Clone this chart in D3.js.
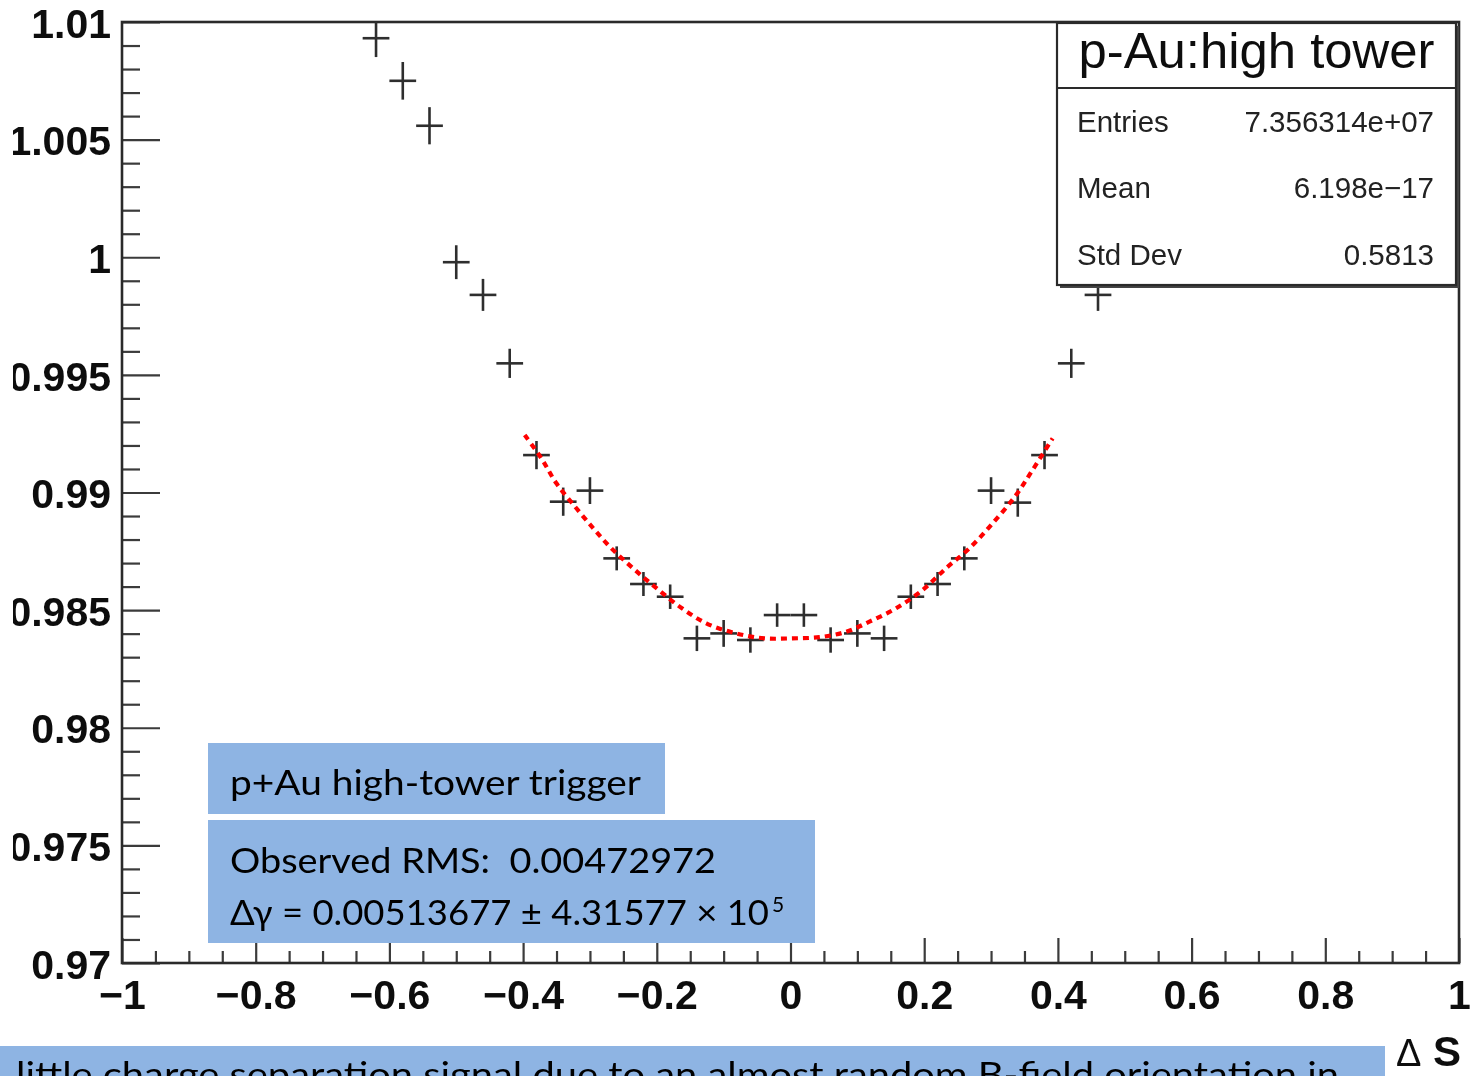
<!DOCTYPE html>
<html>
<head>
<meta charset="utf-8">
<script src="https://cdn.jsdelivr.net/npm/d3@7"></script>
<style>
  html, body { margin: 0; padding: 0; background: #fff; }
  svg { display: block; }
</style>
</head>
<body>
<svg id="chart" width="1471" height="1076"></svg>
<script>
// ΔS bin centres (bin width 0.04) with the ratio in each bin and its uncertainty
const binCenters = [-0.62, -0.58, -0.54, -0.50, -0.46, -0.42, -0.38, -0.34, -0.30, -0.26,
                    -0.22, -0.18, -0.14, -0.10, -0.06, -0.02, 0.02, 0.06, 0.10, 0.14,
                    0.18, 0.22, 0.26, 0.30, 0.34, 0.38, 0.42, 0.46];
const ratioValues = [1.00931, 1.00750, 1.00559, 0.99979, 0.99840, 0.99549, 0.99159, 0.98961, 0.99008, 0.98720,
                     0.98611, 0.98557, 0.98380, 0.98401, 0.98373, 0.98479, 0.98479, 0.98373, 0.98401, 0.98380,
                     0.98557, 0.98611, 0.98720, 0.99008, 0.98957, 0.99159, 0.99549, 0.99840];
const ratioErrors = [0.00080, 0.00080, 0.00079, 0.00072, 0.00068, 0.00062, 0.00060, 0.00060, 0.00057, 0.00051,
                     0.00051, 0.00052, 0.00054, 0.00057, 0.00054, 0.00050, 0.00050, 0.00054, 0.00057, 0.00054,
                     0.00052, 0.00051, 0.00051, 0.00057, 0.00060, 0.00060, 0.00062, 0.00068];
const binHalfWidth = 0.02;

// fitted curve sampled along ΔS
const fitX = [-0.3976, -0.3726, -0.3502, -0.3203, -0.2930, -0.2680, -0.2357, -0.2033, -0.1659, -0.1260,
              -0.0812, -0.0389, 0.0030, 0.0433, 0.0833, 0.1181, 0.1580, 0.1978, 0.2327, 0.2676,
              0.3024, 0.3374, 0.3622, 0.3921];
const fitY = [0.99244, 0.99145, 0.99039, 0.98933, 0.98841, 0.98763, 0.98678, 0.98600, 0.98515, 0.98444,
              0.98401, 0.98380, 0.98380, 0.98385, 0.98408, 0.98451, 0.98508, 0.98586, 0.98678, 0.98763,
              0.98869, 0.98989, 0.99096, 0.99230];

// axis ticks
const xTickValues = [-1, -0.8, -0.6, -0.4, -0.2, 0, 0.2, 0.4, 0.6, 0.8, 1];
const xTickLabels = ["\u22121", "\u22120.8", "\u22120.6", "\u22120.4", "\u22120.2", "0", "0.2", "0.4", "0.6", "0.8", "1"];
const yTickValues = [0.97, 0.975, 0.98, 0.985, 0.99, 0.995, 1, 1.005, 1.01];
const yTickLabels = ["0.97", "0.975", "0.98", "0.985", "0.99", "0.995", "1", "1.005", "1.01"];
const xMinorStep = 0.05;
const yMinorStep = 0.001;
const xTitle = ["\u0394", " S"];

// statistics box
const statsTitle = "p-Au:high tower";
const statsNames = ["Entries", "Mean", "Std Dev"];
const statsValues = ["7.356314e+07", "6.198e\u221217", "0.5813"];

// annotation boxes
const triggerLabel = "p+Au high-tower trigger";
const rmsLine = "Observed RMS:  0.00472972";
const deltaGammaLine = "\u0394\u03b3 = 0.00513677 \u00b1 4.31577 \u00d7 10";
const deltaGammaExp = "5";
const captionLine = "little charge separation signal due to an almost random B-field orientation in";

// ---- layout ----
const L = 122, R = 1459, T = 22, B = 963;
const axisFont = "'Liberation Sans', Arial, Helvetica, sans-serif";
const noteFont = "Lato, 'Open Sans', sans-serif";
const noteFill = "#8eb4e3";

const svg = d3.select("#chart");
const defs = svg.append("defs");
defs.append("clipPath").attr("id", "page-clip")
  .append("rect").attr("x", 13).attr("y", 0).attr("width", 1458).attr("height", 1076);
defs.append("clipPath").attr("id", "plot-clip")
  .append("rect").attr("x", L).attr("y", T).attr("width", R - L).attr("height", B - T);
defs.append("filter").attr("id", "soft").attr("x", "-2%").attr("y", "-2%").attr("width", "104%").attr("height", "104%")
  .append("feGaussianBlur").attr("stdDeviation", 0.7);

const x = d3.scaleLinear().domain([-1, 1]).range([L, R]);
const y = d3.scaleLinear().domain([0.97, 1.01]).range([B, T]);

const chart = svg.append("g").attr("clip-path", "url(#page-clip)")
  .append("g").attr("filter", "url(#soft)");

const near = (v, arr) => arr.some(a => Math.abs(a - v) < 1e-9);
const xMinor = d3.range(-1, 1 + 1e-9, xMinorStep).map(v => +v.toFixed(4)).filter(v => !near(v, xTickValues));
const yMinor = d3.range(0.97, 1.01 + 1e-9, yMinorStep).map(v => +v.toFixed(4)).filter(v => !near(v, yTickValues));

function styleTicks(g, width) {
  g.select(".domain").remove();
  g.attr("color", "#3a3a3a");
  g.selectAll(".tick line").attr("stroke-width", width);
}

// y axis: minor then major ticks (drawn inward)
chart.append("g").attr("transform", `translate(${L},0)`)
  .call(d3.axisLeft(y).tickValues(yMinor).tickSize(-18).tickSizeOuter(0).tickFormat(""))
  .call(g => styleTicks(g, 2.2));
chart.append("g").attr("transform", `translate(${L},0)`)
  .call(d3.axisLeft(y).tickValues(yTickValues).tickSize(-38).tickSizeOuter(0).tickPadding(11)
    .tickFormat((d, i) => yTickLabels[i]))
  .call(g => styleTicks(g, 2.2))
  .call(g => g.selectAll(".tick text")
    .attr("fill", "#111").attr("dy", "0.37em")
    .attr("font-family", axisFont).attr("font-size", 41).attr("font-weight", "bold"));

// x axis: minor then major ticks (drawn inward)
chart.append("g").attr("transform", `translate(0,${B})`)
  .call(d3.axisBottom(x).tickValues(xMinor).tickSize(-12).tickSizeOuter(0).tickFormat(""))
  .call(g => styleTicks(g, 2.2));
chart.append("g").attr("transform", `translate(0,${B})`)
  .call(d3.axisBottom(x).tickValues(xTickValues).tickSize(-25).tickSizeOuter(0).tickPadding(17)
    .tickFormat((d, i) => xTickLabels[i]))
  .call(g => styleTicks(g, 2.2))
  .call(g => g.selectAll(".tick text")
    .attr("fill", "#111")
    .attr("font-family", axisFont).attr("font-size", 41).attr("font-weight", "bold"));

// frame
chart.append("rect")
  .attr("x", L).attr("y", T).attr("width", R - L).attr("height", B - T)
  .attr("fill", "none").attr("stroke", "#2a2a2a").attr("stroke-width", 2.6);

// data points: bin-width horizontal bars and vertical error bars
const points = binCenters.map((c, i) => ({ c, v: ratioValues[i], e: ratioErrors[i] }));
const marks = chart.append("g").attr("clip-path", "url(#plot-clip)")
  .attr("stroke", "#2e2e2e").attr("stroke-width", 2.6);
marks.selectAll("line.hbar").data(points).join("line").attr("class", "hbar")
  .attr("x1", d => x(d.c - binHalfWidth)).attr("x2", d => x(d.c + binHalfWidth))
  .attr("y1", d => y(d.v)).attr("y2", d => y(d.v));
marks.selectAll("line.vbar").data(points).join("line").attr("class", "vbar")
  .attr("x1", d => x(d.c)).attr("x2", d => x(d.c))
  .attr("y1", d => y(d.v - d.e)).attr("y2", d => y(d.v + d.e));

// fit curve
const fitPts = fitX.map((v, i) => [v, fitY[i]]);
chart.append("path")
  .attr("d", d3.line().x(d => x(d[0])).y(d => y(d[1])).curve(d3.curveCatmullRom)(fitPts))
  .attr("fill", "none").attr("stroke", "#ff0000").attr("stroke-width", 4.2)
  .attr("stroke-dasharray", "6 5");

// statistics box
const sb = { x: 1057, y: 23, w: 399, h: 262, sep: 88 };
const stats = chart.append("g");
stats.append("rect").attr("x", sb.x + 3).attr("y", sb.y + 3).attr("width", sb.w).attr("height", sb.h)
  .attr("fill", "#444");
stats.append("rect").attr("x", sb.x).attr("y", sb.y).attr("width", sb.w).attr("height", sb.h)
  .attr("fill", "#fff").attr("stroke", "#2a2a2a").attr("stroke-width", 2.2);
stats.append("line").attr("x1", sb.x).attr("x2", sb.x + sb.w).attr("y1", sb.sep).attr("y2", sb.sep)
  .attr("stroke", "#2a2a2a").attr("stroke-width", 2.2);
stats.append("text").attr("x", sb.x + sb.w / 2).attr("y", 68).attr("text-anchor", "middle")
  .attr("font-family", axisFont).attr("font-size", 50).attr("fill", "#111")
  .attr("textLength", 356).attr("lengthAdjust", "spacingAndGlyphs")
  .text(statsTitle);
const rowBase = [132, 198, 265];
stats.selectAll("text.sname").data(statsNames).join("text").attr("class", "sname")
  .attr("x", 1077).attr("y", (d, i) => rowBase[i])
  .attr("font-family", axisFont).attr("font-size", 29.5).attr("fill", "#222").text(d => d);
stats.selectAll("text.sval").data(statsValues).join("text").attr("class", "sval")
  .attr("x", 1434).attr("y", (d, i) => rowBase[i]).attr("text-anchor", "end")
  .attr("font-family", axisFont).attr("font-size", 29.5).attr("fill", "#222").text(d => d);

// axis title
const xt = chart.append("text").attr("x", 1461).attr("y", 1066).attr("text-anchor", "end")
  .attr("font-family", axisFont).attr("fill", "#111");
xt.append("tspan").attr("font-size", 38).attr("font-weight", "normal").text(xTitle[0]);
xt.append("tspan").attr("font-size", 42).attr("font-weight", "bold").style("white-space", "pre").text(xTitle[1]);

// annotation boxes
const notes = svg.append("g").attr("font-family", noteFont).attr("fill", "#000");
notes.append("rect").attr("x", 208).attr("y", 743).attr("width", 457).attr("height", 71).attr("fill", noteFill);
notes.append("text").attr("x", 230).attr("y", 795).attr("font-size", 35)
  .attr("textLength", 411).attr("lengthAdjust", "spacingAndGlyphs").text(triggerLabel);

notes.append("rect").attr("x", 208).attr("y", 820).attr("width", 607).attr("height", 123).attr("fill", noteFill);
notes.append("text").attr("x", 230).attr("y", 873).attr("font-size", 35).style("white-space", "pre")
  .attr("textLength", 486).attr("lengthAdjust", "spacingAndGlyphs").text(rmsLine);
notes.append("text").attr("x", 230).attr("y", 925).attr("font-size", 35).style("white-space", "pre")
  .attr("textLength", 539).attr("lengthAdjust", "spacingAndGlyphs").text(deltaGammaLine);
notes.append("text").attr("x", 772).attr("y", 912).attr("font-size", 21).text(deltaGammaExp);

notes.append("rect").attr("x", 0).attr("y", 1046).attr("width", 1385).attr("height", 40).attr("fill", noteFill);
notes.append("text").attr("x", 16).attr("y", 1087).attr("font-size", 35)
  .attr("textLength", 1323).attr("lengthAdjust", "spacingAndGlyphs").text(captionLine);
</script>
</body>
</html>
